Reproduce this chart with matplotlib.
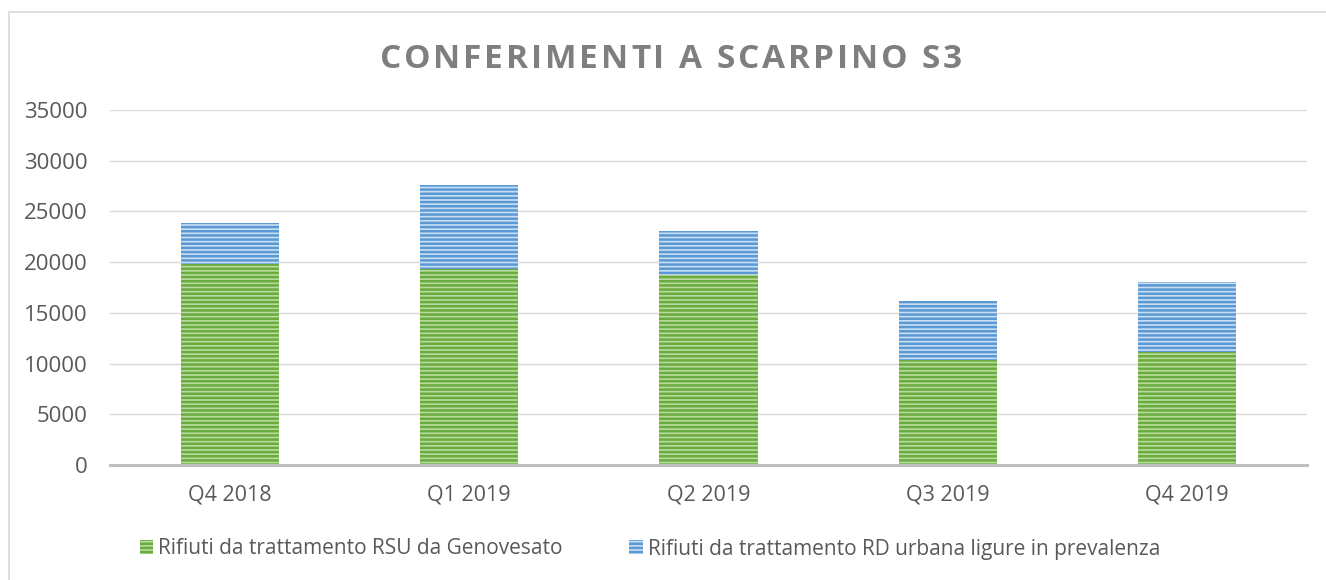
import matplotlib
matplotlib.use("Agg")
import matplotlib.pyplot as plt
from matplotlib.patches import Patch, Rectangle
from matplotlib.font_manager import FontProperties
import numpy as np

categories = ["Q4 2018", "Q1 2019", "Q2 2019", "Q3 2019", "Q4 2019"]
rsu_genovesato = [19800, 19300, 18700, 10400, 11100]
rd_urbana = [4100, 8300, 4400, 5800, 6900]
series_labels = ["Rifiuti da trattamento RSU da Genovesato",
                 "Rifiuti da trattamento RD urbana ligure in prevalenza"]
title = "CONFERIMENTI A SCARPINO S3"
yticks = [0, 5000, 10000, 15000, 20000, 25000, 30000, 35000]

plt.rcParams['font.family'] = ['Open Sans', 'DejaVu Sans']
plt.rcParams['hatch.linewidth'] = 1.8

TEXT = "#595959"
GREEN_D, GREEN_L = "#6AAB3E", "#B9DA9F"
BLUE_D, BLUE_L = "#5A99D4", "#C9DEF3"

W, H, DPI = 1326, 580, 100
fig = plt.figure(figsize=(W / DPI, H / DPI), dpi=DPI)
ax = fig.add_axes([110 / W, 1 - 465 / H, (1307 - 110) / W, (465 - 110) / H])

x = np.arange(len(categories))
bw = 0.41
ax.bar(x, rsu_genovesato, bw, color=GREEN_L, edgecolor=GREEN_D, hatch="----",
       linewidth=0, zorder=3)
ax.bar(x, rd_urbana, bw, bottom=rsu_genovesato, color=BLUE_L, edgecolor=BLUE_D,
       hatch="----", linewidth=0, zorder=3)

ax.set_xlim(-0.5, len(categories) - 0.5)
ax.set_ylim(0, 35000)
ax.set_yticks(yticks)
ax.set_yticklabels([str(v) for v in yticks])
ax.set_xticks(x)
ax.set_xticklabels(categories)
ax.tick_params(axis='both', length=0, labelcolor=TEXT)
ax.tick_params(axis='y', pad=16, labelsize=16)
ax.tick_params(axis='x', pad=14, labelsize=15.5)
ax.grid(axis='y', color="#D9D9D9", linewidth=1.0, zorder=0)
for s in ["left", "right", "top"]:
    ax.spines[s].set_visible(False)
ax.spines["bottom"].set_color("#BFBFBF")
ax.spines["bottom"].set_linewidth(2.2)
ax.spines["bottom"].set_zorder(4)

# figure border
fig.patches.append(Rectangle((9 / W, -0.05), 1.1, 1 - 12 / H + 0.05,
                             transform=fig.transFigure, fill=False,
                             edgecolor="#D9D9D9", linewidth=1.2))

# title with letter spacing
fig.canvas.draw()
renderer = fig.canvas.get_renderer()
fp = FontProperties(family=['Open Sans', 'DejaVu Sans'], weight='bold', size=24)
def wpx(s):
    if not s:
        return 0.0
    w, h, d = renderer.get_text_width_height_descent(s, fp, ismath=False)
    return w
total_plain = wpx(title)
target_left, target_right = 380, 962
n = len(title)
spacing = (target_right - target_left - total_plain) / (n - 1)
baseline_y = 1 - 68 / H
for i, ch in enumerate(title):
    xpx = target_left + wpx(title[:i]) + i * spacing
    fig.text(xpx / W, baseline_y, ch, fontproperties=fp, color="#7F7F7F",
             ha='left', va='baseline')

handles = [Patch(facecolor=GREEN_L, edgecolor=GREEN_D, hatch="----", linewidth=0),
           Patch(facecolor=BLUE_L, edgecolor=BLUE_D, hatch="----", linewidth=0)]
fig.legend(handles, series_labels, loc='center', bbox_to_anchor=(650 / W, 1 - 549 / H),
           ncol=2, frameon=False, fontsize=15, labelcolor=TEXT,
           handlelength=0.63, handleheight=0.63, handletextpad=0.25,
           columnspacing=3.2, borderpad=0, borderaxespad=0)

fig.savefig("out.png", dpi=DPI)
